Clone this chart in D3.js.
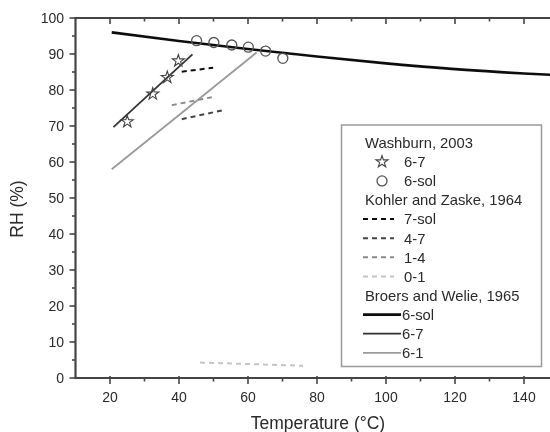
<!DOCTYPE html>
<html>
<head>
<meta charset="utf-8">
<script src="https://cdn.jsdelivr.net/npm/d3@7"></script>
<style>
  html, body { margin: 0; padding: 0; background: #fff; }
  svg { display: block; }
  text { font-family: "Liberation Sans", Arial, sans-serif; fill: #2a2a2a; }
</style>
</head>
<body>
<svg id="chart" width="550" height="432"></svg>
<script>
// Deliquescence / hydrate transition RH vs temperature
const xTicks = [20, 40, 60, 80, 100, 120, 140];
const yTicks = [0, 10, 20, 30, 40, 50, 60, 70, 80, 90, 100];

// Washburn, 2003 (points)
const wash67 = [[25, 71.2], [32.4, 78.9], [36.6, 83.5], [39.8, 88.1]];
const wash6sol = [[45.1, 93.7], [50.1, 93.2], [55.3, 92.5], [60.1, 91.9], [65.1, 90.8], [70.1, 88.8]];

// Kohler and Zaske, 1964 (dashed)
const kz7sol = [[40.8, 85.1], [49.9, 86.2]];
const kz47 = [[40.8, 71.9], [52.8, 74.4]];
const kz14 = [[37.9, 75.8], [49.5, 78.0]];
const kz01 = [[46.1, 4.3], [76.0, 3.4]];

// Broers and Welie, 1965 (solid)
const bw6sol = [[20.5, 96.0], [40, 93.6], [60, 91.4], [80, 89.3], [100, 87.4], [120, 85.8], [140, 84.6], [150, 84.1]];
const bw67 = [[21, 69.7], [43.9, 89.9]];
const bw61 = [[20.5, 58.0], [62.5, 90.4]];

const svg = d3.select("#chart");
const defs = svg.append("defs");
defs.append("filter").attr("id", "soft")
  .append("feGaussianBlur").attr("stdDeviation", 0.45);

const x = d3.scaleLinear().domain([10, 150]).range([75.5, 558.5]);
const y = d3.scaleLinear().domain([0, 100]).range([378, 18]);

const root = svg.append("g").attr("filter", "url(#soft)");
const plot = root.append("g");
const line = d3.line().x(d => x(d[0])).y(d => y(d[1])).curve(d3.curveMonotoneX);

// series lines
const series = [
  { data: bw6sol, color: "#111", width: 2.6, dash: null },
  { data: bw67, color: "#333", width: 1.8, dash: null },
  { data: bw61, color: "#9a9a9a", width: 1.8, dash: null },
  { data: kz7sol, color: "#111", width: 2, dash: "5,4" },
  { data: kz47, color: "#444", width: 2, dash: "5,4" },
  { data: kz14, color: "#8a8a8a", width: 2, dash: "5,4" },
  { data: kz01, color: "#c4c4c4", width: 2, dash: "5,4" }
];
series.forEach(s => {
  plot.append("path")
    .attr("d", line(s.data))
    .attr("fill", "none")
    .attr("stroke", s.color)
    .attr("stroke-width", s.width)
    .attr("stroke-dasharray", s.dash);
});

// markers
const star = d3.symbol().type(d3.symbolStar).size(45);
plot.selectAll(".star").data(wash67).join("path")
  .attr("transform", d => `translate(${x(d[0])},${y(d[1])})`)
  .attr("d", star)
  .attr("fill", "none").attr("stroke", "#444").attr("stroke-width", 1.1);
plot.selectAll(".circ").data(wash6sol).join("circle")
  .attr("cx", d => x(d[0])).attr("cy", d => y(d[1])).attr("r", 5)
  .attr("fill", "none").attr("stroke", "#555").attr("stroke-width", 1.3);

// axes frame
const axisColor = "#444";
const ax = root.append("g");
ax.append("line").attr("x1", x(10)).attr("x2", 550).attr("y1", y(0)).attr("y2", y(0))
  .attr("stroke", axisColor).attr("stroke-width", 2.2);
ax.append("line").attr("x1", x(10)).attr("x2", 550).attr("y1", y(100)).attr("y2", y(100))
  .attr("stroke", axisColor).attr("stroke-width", 2.2);
ax.append("line").attr("x1", x(10)).attr("x2", x(10)).attr("y1", y(100) - 1).attr("y2", y(0) + 1)
  .attr("stroke", axisColor).attr("stroke-width", 2.2);

// x ticks (bottom outward, top inward)
const xMinor = d3.range(30, 151, 20);
xTicks.forEach(t => {
  ax.append("line").attr("x1", x(t)).attr("x2", x(t)).attr("y1", y(0) - 2).attr("y2", y(0) + 6)
    .attr("stroke", axisColor).attr("stroke-width", 1.6);
  ax.append("line").attr("x1", x(t)).attr("x2", x(t)).attr("y1", y(100)).attr("y2", y(100) + 6)
    .attr("stroke", axisColor).attr("stroke-width", 1.6);
  ax.append("text").attr("x", x(t)).attr("y", 402).attr("text-anchor", "middle")
    .attr("font-size", 14).text(t);
});
xMinor.forEach(t => {
  ax.append("line").attr("x1", x(t)).attr("x2", x(t)).attr("y1", y(0)).attr("y2", y(0) + 3.5)
    .attr("stroke", axisColor).attr("stroke-width", 1.6);
  ax.append("line").attr("x1", x(t)).attr("x2", x(t)).attr("y1", y(100)).attr("y2", y(100) + 3.5)
    .attr("stroke", axisColor).attr("stroke-width", 1.6);
});

// y ticks (left outward)
yTicks.forEach(t => {
  ax.append("line").attr("x1", x(10) - 6).attr("x2", x(10)).attr("y1", y(t)).attr("y2", y(t))
    .attr("stroke", axisColor).attr("stroke-width", 1.6);
  ax.append("text").attr("x", 64).attr("y", y(t)).attr("dy", "0.36em").attr("text-anchor", "end")
    .attr("font-size", 14).text(t);
});
d3.range(5, 100, 10).forEach(t => {
  ax.append("line").attr("x1", x(10) - 3.5).attr("x2", x(10)).attr("y1", y(t)).attr("y2", y(t))
    .attr("stroke", axisColor).attr("stroke-width", 1.6);
});

// axis titles
root.append("text").attr("x", 318).attr("y", 429).attr("text-anchor", "middle")
  .attr("font-size", 17.5).text("Temperature (°C)");
root.append("text").attr("transform", "translate(23,209) rotate(-90)").attr("text-anchor", "middle")
  .attr("font-size", 17.5).text("RH (%)");

// legend
const lg = root.append("g");
lg.append("rect").attr("x", 341.5).attr("y", 125).attr("width", 200).attr("height", 241.5)
  .attr("fill", "#fff").attr("stroke", "#9a9a9a").attr("stroke-width", 1.5);

const legendRows = [
  { type: "head", label: "Washburn, 2003" },
  { type: "star", label: "6-7" },
  { type: "circle", label: "6-sol" },
  { type: "head", label: "Kohler and Zaske, 1964" },
  { type: "dash", label: "7-sol", s: series[3] },
  { type: "dash", label: "4-7", s: series[4] },
  { type: "dash", label: "1-4", s: series[5] },
  { type: "dash", label: "0-1", s: series[6] },
  { type: "head", label: "Broers and Welie, 1965" },
  { type: "solid", label: "6-sol", s: series[0] },
  { type: "solid", label: "6-7", s: series[1] },
  { type: "solid", label: "6-1", s: series[2] }
];
legendRows.forEach((r, i) => {
  const cy = 142.7 + i * 19.1;
  const fs = 14.8;
  if (r.type === "head") {
    lg.append("text").attr("x", 365).attr("y", cy).attr("dy", "0.36em").attr("font-size", fs).text(r.label);
    return;
  }
  if (r.type === "star") {
    lg.append("path").attr("transform", `translate(382,${cy})`).attr("d", star)
      .attr("fill", "none").attr("stroke", "#444").attr("stroke-width", 1.1);
  } else if (r.type === "circle") {
    lg.append("circle").attr("cx", 382).attr("cy", cy).attr("r", 5)
      .attr("fill", "none").attr("stroke", "#555").attr("stroke-width", 1.3);
  } else if (r.type === "dash") {
    lg.append("line").attr("x1", 363).attr("x2", 394).attr("y1", cy).attr("y2", cy)
      .attr("stroke", r.s.color).attr("stroke-width", 2).attr("stroke-dasharray", "5,4");
  } else {
    lg.append("line").attr("x1", 363).attr("x2", 401).attr("y1", cy).attr("y2", cy)
      .attr("stroke", r.s.color).attr("stroke-width", r.s.width);
  }
  lg.append("text").attr("x", r.type === "solid" ? 402 : 404).attr("y", cy).attr("dy", "0.36em")
    .attr("font-size", fs).text(r.label);
});
</script>
</body>
</html>
